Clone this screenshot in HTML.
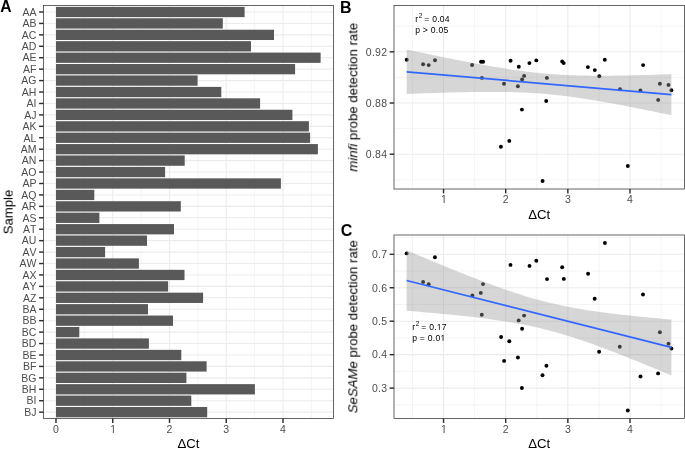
<!DOCTYPE html>
<html><head><meta charset="utf-8"><style>
html,body{margin:0;padding:0;background:#fff;}
svg{display:block;will-change:transform;}
text{filter:blur(0.2px);font-family:"Liberation Sans", sans-serif;font-variant-ligatures:none;font-kerning:none;}
.ax{font-size:10.5px;fill:#4D4D4D;}
.tt{font-size:13.2px;fill:#000;}
.tag{font-size:16px;font-weight:bold;fill:#000;}
.an{font-size:8.6px;fill:#000;letter-spacing:0.25px;}
</style></head><body>
<svg width="685" height="449" viewBox="0 0 685 449">
<defs><clipPath id="c1_0" clipPathUnits="userSpaceOnUse"><rect x="108.23" y="420.4" width="10.5" height="11.6"/><rect x="112.79" y="431.4" width="1.08" height="2"/></clipPath><clipPath id="c1_1" clipPathUnits="userSpaceOnUse"><rect x="439.03" y="190.4" width="10.5" height="11.6"/><rect x="443.59" y="201.4" width="1.08" height="2"/></clipPath><clipPath id="c1_2" clipPathUnits="userSpaceOnUse"><rect x="439.03" y="420.4" width="10.5" height="11.6"/><rect x="443.59" y="431.4" width="1.08" height="2"/></clipPath><clipPath id="fc_ann3" clipPathUnits="userSpaceOnUse"><rect x="380" y="316" width="90" height="13"/><rect x="380" y="329" width="57.26" height="5"/><rect x="439" y="329" width="0.76" height="5"/><rect x="441.46" y="329" width="28.54" height="5"/></clipPath><clipPath id="fc_ann4" clipPathUnits="userSpaceOnUse"><rect x="380" y="327" width="90" height="13"/><rect x="380" y="340" width="60.89" height="5"/><rect x="442.63" y="340" width="0.76" height="5"/><rect x="445.08" y="340" width="24.92" height="5"/></clipPath></defs>
<rect width="685" height="449" fill="#fff"/>
<rect x="43.5" y="5.5" width="290.0" height="413.0" fill="#fff"/>
<line x1="84.38" y1="5.5" x2="84.38" y2="418.5" stroke="#EBEBEB" stroke-width="0.55"/>
<line x1="141.12" y1="5.5" x2="141.12" y2="418.5" stroke="#EBEBEB" stroke-width="0.55"/>
<line x1="197.88" y1="5.5" x2="197.88" y2="418.5" stroke="#EBEBEB" stroke-width="0.55"/>
<line x1="254.62" y1="5.5" x2="254.62" y2="418.5" stroke="#EBEBEB" stroke-width="0.55"/>
<line x1="311.38" y1="5.5" x2="311.38" y2="418.5" stroke="#EBEBEB" stroke-width="0.55"/>
<line x1="56" y1="5.5" x2="56" y2="418.5" stroke="#EBEBEB" stroke-width="1.1"/>
<line x1="112.75" y1="5.5" x2="112.75" y2="418.5" stroke="#EBEBEB" stroke-width="1.1"/>
<line x1="169.5" y1="5.5" x2="169.5" y2="418.5" stroke="#EBEBEB" stroke-width="1.1"/>
<line x1="226.25" y1="5.5" x2="226.25" y2="418.5" stroke="#EBEBEB" stroke-width="1.1"/>
<line x1="283" y1="5.5" x2="283" y2="418.5" stroke="#EBEBEB" stroke-width="1.1"/>
<line x1="43.5" y1="12" x2="333.5" y2="12" stroke="#EBEBEB" stroke-width="1.1"/>
<line x1="43.5" y1="23.43" x2="333.5" y2="23.43" stroke="#EBEBEB" stroke-width="1.1"/>
<line x1="43.5" y1="34.87" x2="333.5" y2="34.87" stroke="#EBEBEB" stroke-width="1.1"/>
<line x1="43.5" y1="46.3" x2="333.5" y2="46.3" stroke="#EBEBEB" stroke-width="1.1"/>
<line x1="43.5" y1="57.73" x2="333.5" y2="57.73" stroke="#EBEBEB" stroke-width="1.1"/>
<line x1="43.5" y1="69.16" x2="333.5" y2="69.16" stroke="#EBEBEB" stroke-width="1.1"/>
<line x1="43.5" y1="80.6" x2="333.5" y2="80.6" stroke="#EBEBEB" stroke-width="1.1"/>
<line x1="43.5" y1="92.03" x2="333.5" y2="92.03" stroke="#EBEBEB" stroke-width="1.1"/>
<line x1="43.5" y1="103.46" x2="333.5" y2="103.46" stroke="#EBEBEB" stroke-width="1.1"/>
<line x1="43.5" y1="114.9" x2="333.5" y2="114.9" stroke="#EBEBEB" stroke-width="1.1"/>
<line x1="43.5" y1="126.33" x2="333.5" y2="126.33" stroke="#EBEBEB" stroke-width="1.1"/>
<line x1="43.5" y1="137.76" x2="333.5" y2="137.76" stroke="#EBEBEB" stroke-width="1.1"/>
<line x1="43.5" y1="149.2" x2="333.5" y2="149.2" stroke="#EBEBEB" stroke-width="1.1"/>
<line x1="43.5" y1="160.63" x2="333.5" y2="160.63" stroke="#EBEBEB" stroke-width="1.1"/>
<line x1="43.5" y1="172.06" x2="333.5" y2="172.06" stroke="#EBEBEB" stroke-width="1.1"/>
<line x1="43.5" y1="183.5" x2="333.5" y2="183.5" stroke="#EBEBEB" stroke-width="1.1"/>
<line x1="43.5" y1="194.93" x2="333.5" y2="194.93" stroke="#EBEBEB" stroke-width="1.1"/>
<line x1="43.5" y1="206.36" x2="333.5" y2="206.36" stroke="#EBEBEB" stroke-width="1.1"/>
<line x1="43.5" y1="217.79" x2="333.5" y2="217.79" stroke="#EBEBEB" stroke-width="1.1"/>
<line x1="43.5" y1="229.23" x2="333.5" y2="229.23" stroke="#EBEBEB" stroke-width="1.1"/>
<line x1="43.5" y1="240.66" x2="333.5" y2="240.66" stroke="#EBEBEB" stroke-width="1.1"/>
<line x1="43.5" y1="252.09" x2="333.5" y2="252.09" stroke="#EBEBEB" stroke-width="1.1"/>
<line x1="43.5" y1="263.53" x2="333.5" y2="263.53" stroke="#EBEBEB" stroke-width="1.1"/>
<line x1="43.5" y1="274.96" x2="333.5" y2="274.96" stroke="#EBEBEB" stroke-width="1.1"/>
<line x1="43.5" y1="286.39" x2="333.5" y2="286.39" stroke="#EBEBEB" stroke-width="1.1"/>
<line x1="43.5" y1="297.82" x2="333.5" y2="297.82" stroke="#EBEBEB" stroke-width="1.1"/>
<line x1="43.5" y1="309.26" x2="333.5" y2="309.26" stroke="#EBEBEB" stroke-width="1.1"/>
<line x1="43.5" y1="320.69" x2="333.5" y2="320.69" stroke="#EBEBEB" stroke-width="1.1"/>
<line x1="43.5" y1="332.12" x2="333.5" y2="332.12" stroke="#EBEBEB" stroke-width="1.1"/>
<line x1="43.5" y1="343.56" x2="333.5" y2="343.56" stroke="#EBEBEB" stroke-width="1.1"/>
<line x1="43.5" y1="354.99" x2="333.5" y2="354.99" stroke="#EBEBEB" stroke-width="1.1"/>
<line x1="43.5" y1="366.42" x2="333.5" y2="366.42" stroke="#EBEBEB" stroke-width="1.1"/>
<line x1="43.5" y1="377.86" x2="333.5" y2="377.86" stroke="#EBEBEB" stroke-width="1.1"/>
<line x1="43.5" y1="389.29" x2="333.5" y2="389.29" stroke="#EBEBEB" stroke-width="1.1"/>
<line x1="43.5" y1="400.72" x2="333.5" y2="400.72" stroke="#EBEBEB" stroke-width="1.1"/>
<line x1="43.5" y1="412.15" x2="333.5" y2="412.15" stroke="#EBEBEB" stroke-width="1.1"/>
<rect x="56.0" y="6.86" width="188.6" height="10.29" fill="#595959"/>
<rect x="56.0" y="18.29" width="166.8" height="10.29" fill="#595959"/>
<rect x="56.0" y="29.72" width="218" height="10.29" fill="#595959"/>
<rect x="56.0" y="41.15" width="195" height="10.29" fill="#595959"/>
<rect x="56.0" y="52.59" width="264.6" height="10.29" fill="#595959"/>
<rect x="56.0" y="64.02" width="239.1" height="10.29" fill="#595959"/>
<rect x="56.0" y="75.45" width="141.6" height="10.29" fill="#595959"/>
<rect x="56.0" y="86.89" width="165.3" height="10.29" fill="#595959"/>
<rect x="56.0" y="98.32" width="204.1" height="10.29" fill="#595959"/>
<rect x="56.0" y="109.75" width="236.4" height="10.29" fill="#595959"/>
<rect x="56.0" y="121.19" width="252.9" height="10.29" fill="#595959"/>
<rect x="56.0" y="132.62" width="254.1" height="10.29" fill="#595959"/>
<rect x="56.0" y="144.05" width="261.9" height="10.29" fill="#595959"/>
<rect x="56.0" y="155.48" width="128.7" height="10.29" fill="#595959"/>
<rect x="56.0" y="166.92" width="109.1" height="10.29" fill="#595959"/>
<rect x="56.0" y="178.35" width="224.9" height="10.29" fill="#595959"/>
<rect x="56.0" y="189.78" width="38.3" height="10.29" fill="#595959"/>
<rect x="56.0" y="201.22" width="124.8" height="10.29" fill="#595959"/>
<rect x="56.0" y="212.65" width="43.4" height="10.29" fill="#595959"/>
<rect x="56.0" y="224.08" width="118" height="10.29" fill="#595959"/>
<rect x="56.0" y="235.51" width="91" height="10.29" fill="#595959"/>
<rect x="56.0" y="246.95" width="49.1" height="10.29" fill="#595959"/>
<rect x="56.0" y="258.38" width="82.9" height="10.29" fill="#595959"/>
<rect x="56.0" y="269.81" width="128.5" height="10.29" fill="#595959"/>
<rect x="56.0" y="281.25" width="112.1" height="10.29" fill="#595959"/>
<rect x="56.0" y="292.68" width="147.1" height="10.29" fill="#595959"/>
<rect x="56.0" y="304.11" width="92" height="10.29" fill="#595959"/>
<rect x="56.0" y="315.55" width="117" height="10.29" fill="#595959"/>
<rect x="56.0" y="326.98" width="23.3" height="10.29" fill="#595959"/>
<rect x="56.0" y="338.41" width="92.9" height="10.29" fill="#595959"/>
<rect x="56.0" y="349.85" width="125.3" height="10.29" fill="#595959"/>
<rect x="56.0" y="361.28" width="150.6" height="10.29" fill="#595959"/>
<rect x="56.0" y="372.71" width="130.4" height="10.29" fill="#595959"/>
<rect x="56.0" y="384.14" width="198.9" height="10.29" fill="#595959"/>
<rect x="56.0" y="395.58" width="135.3" height="10.29" fill="#595959"/>
<rect x="56.0" y="407.01" width="151.2" height="10.29" fill="#595959"/>
<rect x="43.5" y="5.5" width="290.0" height="413.0" fill="none" stroke="#333333" stroke-width="0.75"/>
<line x1="39.1" y1="12" x2="43.5" y2="12" stroke="#2e2e2e" stroke-width="1.45"/>
<line x1="39.1" y1="23.43" x2="43.5" y2="23.43" stroke="#2e2e2e" stroke-width="1.45"/>
<line x1="39.1" y1="34.87" x2="43.5" y2="34.87" stroke="#2e2e2e" stroke-width="1.45"/>
<line x1="39.1" y1="46.3" x2="43.5" y2="46.3" stroke="#2e2e2e" stroke-width="1.45"/>
<line x1="39.1" y1="57.73" x2="43.5" y2="57.73" stroke="#2e2e2e" stroke-width="1.45"/>
<line x1="39.1" y1="69.16" x2="43.5" y2="69.16" stroke="#2e2e2e" stroke-width="1.45"/>
<line x1="39.1" y1="80.6" x2="43.5" y2="80.6" stroke="#2e2e2e" stroke-width="1.45"/>
<line x1="39.1" y1="92.03" x2="43.5" y2="92.03" stroke="#2e2e2e" stroke-width="1.45"/>
<line x1="39.1" y1="103.46" x2="43.5" y2="103.46" stroke="#2e2e2e" stroke-width="1.45"/>
<line x1="39.1" y1="114.9" x2="43.5" y2="114.9" stroke="#2e2e2e" stroke-width="1.45"/>
<line x1="39.1" y1="126.33" x2="43.5" y2="126.33" stroke="#2e2e2e" stroke-width="1.45"/>
<line x1="39.1" y1="137.76" x2="43.5" y2="137.76" stroke="#2e2e2e" stroke-width="1.45"/>
<line x1="39.1" y1="149.2" x2="43.5" y2="149.2" stroke="#2e2e2e" stroke-width="1.45"/>
<line x1="39.1" y1="160.63" x2="43.5" y2="160.63" stroke="#2e2e2e" stroke-width="1.45"/>
<line x1="39.1" y1="172.06" x2="43.5" y2="172.06" stroke="#2e2e2e" stroke-width="1.45"/>
<line x1="39.1" y1="183.5" x2="43.5" y2="183.5" stroke="#2e2e2e" stroke-width="1.45"/>
<line x1="39.1" y1="194.93" x2="43.5" y2="194.93" stroke="#2e2e2e" stroke-width="1.45"/>
<line x1="39.1" y1="206.36" x2="43.5" y2="206.36" stroke="#2e2e2e" stroke-width="1.45"/>
<line x1="39.1" y1="217.79" x2="43.5" y2="217.79" stroke="#2e2e2e" stroke-width="1.45"/>
<line x1="39.1" y1="229.23" x2="43.5" y2="229.23" stroke="#2e2e2e" stroke-width="1.45"/>
<line x1="39.1" y1="240.66" x2="43.5" y2="240.66" stroke="#2e2e2e" stroke-width="1.45"/>
<line x1="39.1" y1="252.09" x2="43.5" y2="252.09" stroke="#2e2e2e" stroke-width="1.45"/>
<line x1="39.1" y1="263.53" x2="43.5" y2="263.53" stroke="#2e2e2e" stroke-width="1.45"/>
<line x1="39.1" y1="274.96" x2="43.5" y2="274.96" stroke="#2e2e2e" stroke-width="1.45"/>
<line x1="39.1" y1="286.39" x2="43.5" y2="286.39" stroke="#2e2e2e" stroke-width="1.45"/>
<line x1="39.1" y1="297.82" x2="43.5" y2="297.82" stroke="#2e2e2e" stroke-width="1.45"/>
<line x1="39.1" y1="309.26" x2="43.5" y2="309.26" stroke="#2e2e2e" stroke-width="1.45"/>
<line x1="39.1" y1="320.69" x2="43.5" y2="320.69" stroke="#2e2e2e" stroke-width="1.45"/>
<line x1="39.1" y1="332.12" x2="43.5" y2="332.12" stroke="#2e2e2e" stroke-width="1.45"/>
<line x1="39.1" y1="343.56" x2="43.5" y2="343.56" stroke="#2e2e2e" stroke-width="1.45"/>
<line x1="39.1" y1="354.99" x2="43.5" y2="354.99" stroke="#2e2e2e" stroke-width="1.45"/>
<line x1="39.1" y1="366.42" x2="43.5" y2="366.42" stroke="#2e2e2e" stroke-width="1.45"/>
<line x1="39.1" y1="377.86" x2="43.5" y2="377.86" stroke="#2e2e2e" stroke-width="1.45"/>
<line x1="39.1" y1="389.29" x2="43.5" y2="389.29" stroke="#2e2e2e" stroke-width="1.45"/>
<line x1="39.1" y1="400.72" x2="43.5" y2="400.72" stroke="#2e2e2e" stroke-width="1.45"/>
<line x1="39.1" y1="412.15" x2="43.5" y2="412.15" stroke="#2e2e2e" stroke-width="1.45"/>
<line x1="56" y1="418.5" x2="56" y2="422.9" stroke="#2e2e2e" stroke-width="1.45"/>
<line x1="112.75" y1="418.5" x2="112.75" y2="422.9" stroke="#2e2e2e" stroke-width="1.45"/>
<line x1="169.5" y1="418.5" x2="169.5" y2="422.9" stroke="#2e2e2e" stroke-width="1.45"/>
<line x1="226.25" y1="418.5" x2="226.25" y2="422.9" stroke="#2e2e2e" stroke-width="1.45"/>
<line x1="283" y1="418.5" x2="283" y2="422.9" stroke="#2e2e2e" stroke-width="1.45"/>
<text x="36.4" y="15.76" text-anchor="end" class="ax">AA</text>
<text x="36.4" y="27.19" text-anchor="end" class="ax">AB</text>
<text x="36.4" y="38.62" text-anchor="end" class="ax">AC</text>
<text x="36.4" y="50.06" text-anchor="end" class="ax">AD</text>
<text x="36.4" y="61.49" text-anchor="end" class="ax">AE</text>
<text x="36.4" y="72.92" text-anchor="end" class="ax">AF</text>
<text x="36.4" y="84.36" text-anchor="end" class="ax">AG</text>
<text x="36.4" y="95.79" text-anchor="end" class="ax">AH</text>
<text x="36.4" y="107.22" text-anchor="end" class="ax">AI</text>
<text x="36.4" y="118.66" text-anchor="end" class="ax">AJ</text>
<text x="36.4" y="130.09" text-anchor="end" class="ax">AK</text>
<text x="36.4" y="141.52" text-anchor="end" class="ax">AL</text>
<text x="36.4" y="152.95" text-anchor="end" class="ax">AM</text>
<text x="36.4" y="164.39" text-anchor="end" class="ax">AN</text>
<text x="36.4" y="175.82" text-anchor="end" class="ax">AO</text>
<text x="36.4" y="187.25" text-anchor="end" class="ax">AP</text>
<text x="36.4" y="198.69" text-anchor="end" class="ax">AQ</text>
<text x="36.4" y="210.12" text-anchor="end" class="ax">AR</text>
<text x="36.4" y="221.55" text-anchor="end" class="ax">AS</text>
<text x="36.4" y="232.99" text-anchor="end" class="ax">AT</text>
<text x="36.4" y="244.42" text-anchor="end" class="ax">AU</text>
<text x="36.4" y="255.85" text-anchor="end" class="ax">AV</text>
<text x="36.4" y="267.29" text-anchor="end" class="ax">AW</text>
<text x="36.4" y="278.72" text-anchor="end" class="ax">AX</text>
<text x="36.4" y="290.15" text-anchor="end" class="ax">AY</text>
<text x="36.4" y="301.58" text-anchor="end" class="ax">AZ</text>
<text x="36.4" y="313.02" text-anchor="end" class="ax">BA</text>
<text x="36.4" y="324.45" text-anchor="end" class="ax">BB</text>
<text x="36.4" y="335.88" text-anchor="end" class="ax">BC</text>
<text x="36.4" y="347.32" text-anchor="end" class="ax">BD</text>
<text x="36.4" y="358.75" text-anchor="end" class="ax">BE</text>
<text x="36.4" y="370.18" text-anchor="end" class="ax">BF</text>
<text x="36.4" y="381.62" text-anchor="end" class="ax">BG</text>
<text x="36.4" y="393.05" text-anchor="end" class="ax">BH</text>
<text x="36.4" y="404.48" text-anchor="end" class="ax">BI</text>
<text x="36.4" y="415.91" text-anchor="end" class="ax">BJ</text>
<text x="56" y="433.0" text-anchor="middle" class="ax">0</text>
<g clip-path="url(#c1_0)"><text x="113.15" y="433.0" text-anchor="middle" class="ax">1</text></g>
<text x="169.5" y="433.0" text-anchor="middle" class="ax">2</text>
<text x="226.25" y="433.0" text-anchor="middle" class="ax">3</text>
<text x="283" y="433.0" text-anchor="middle" class="ax">4</text>
<text x="188.5" y="447.6" text-anchor="middle" class="tt">ΔCt</text>
<text transform="translate(12.6,212.0) rotate(-90)" text-anchor="middle" class="tt">Sample</text>
<rect x="394.0" y="5.5" width="290.5" height="183.5" fill="#fff"/>
<line x1="412.47" y1="5.5" x2="412.47" y2="189.0" stroke="#EBEBEB" stroke-width="0.55"/>
<line x1="474.62" y1="5.5" x2="474.62" y2="189.0" stroke="#EBEBEB" stroke-width="0.55"/>
<line x1="536.77" y1="5.5" x2="536.77" y2="189.0" stroke="#EBEBEB" stroke-width="0.55"/>
<line x1="598.92" y1="5.5" x2="598.92" y2="189.0" stroke="#EBEBEB" stroke-width="0.55"/>
<line x1="661.08" y1="5.5" x2="661.08" y2="189.0" stroke="#EBEBEB" stroke-width="0.55"/>
<line x1="394.0" y1="179.8" x2="684.5" y2="179.8" stroke="#EBEBEB" stroke-width="0.55"/>
<line x1="394.0" y1="128.6" x2="684.5" y2="128.6" stroke="#EBEBEB" stroke-width="0.55"/>
<line x1="394.0" y1="77.4" x2="684.5" y2="77.4" stroke="#EBEBEB" stroke-width="0.55"/>
<line x1="394.0" y1="26.2" x2="684.5" y2="26.2" stroke="#EBEBEB" stroke-width="0.55"/>
<line x1="443.55" y1="5.5" x2="443.55" y2="189.0" stroke="#EBEBEB" stroke-width="1.1"/>
<line x1="505.7" y1="5.5" x2="505.7" y2="189.0" stroke="#EBEBEB" stroke-width="1.1"/>
<line x1="567.85" y1="5.5" x2="567.85" y2="189.0" stroke="#EBEBEB" stroke-width="1.1"/>
<line x1="630" y1="5.5" x2="630" y2="189.0" stroke="#EBEBEB" stroke-width="1.1"/>
<line x1="394.0" y1="154.2" x2="684.5" y2="154.2" stroke="#EBEBEB" stroke-width="1.1"/>
<line x1="394.0" y1="103" x2="684.5" y2="103" stroke="#EBEBEB" stroke-width="1.1"/>
<line x1="394.0" y1="51.8" x2="684.5" y2="51.8" stroke="#EBEBEB" stroke-width="1.1"/>
<circle cx="406.7" cy="59.7" r="1.95" fill="#000"/>
<circle cx="423.1" cy="64.3" r="1.95" fill="#000"/>
<circle cx="428.7" cy="65.1" r="1.95" fill="#000"/>
<circle cx="435.0" cy="60.3" r="1.95" fill="#000"/>
<circle cx="472.1" cy="65.0" r="1.95" fill="#000"/>
<circle cx="481.0" cy="61.8" r="1.95" fill="#000"/>
<circle cx="483.1" cy="61.8" r="1.95" fill="#000"/>
<circle cx="481.9" cy="77.9" r="1.95" fill="#000"/>
<circle cx="500.9" cy="146.7" r="1.95" fill="#000"/>
<circle cx="504.0" cy="83.7" r="1.95" fill="#000"/>
<circle cx="509.3" cy="140.9" r="1.95" fill="#000"/>
<circle cx="510.6" cy="60.7" r="1.95" fill="#000"/>
<circle cx="517.9" cy="86.2" r="1.95" fill="#000"/>
<circle cx="518.8" cy="66.8" r="1.95" fill="#000"/>
<circle cx="522.1" cy="79.5" r="1.95" fill="#000"/>
<circle cx="521.9" cy="109.6" r="1.95" fill="#000"/>
<circle cx="524.1" cy="75.9" r="1.95" fill="#000"/>
<circle cx="529.4" cy="63.1" r="1.95" fill="#000"/>
<circle cx="536.3" cy="60.4" r="1.95" fill="#000"/>
<circle cx="542.6" cy="181.0" r="1.95" fill="#000"/>
<circle cx="546.9" cy="77.9" r="1.95" fill="#000"/>
<circle cx="546.2" cy="101.0" r="1.95" fill="#000"/>
<circle cx="562.2" cy="61.5" r="1.95" fill="#000"/>
<circle cx="563.7" cy="63.1" r="1.95" fill="#000"/>
<circle cx="587.9" cy="67.1" r="1.95" fill="#000"/>
<circle cx="594.8" cy="70.1" r="1.95" fill="#000"/>
<circle cx="599.3" cy="76.2" r="1.95" fill="#000"/>
<circle cx="604.8" cy="59.8" r="1.95" fill="#000"/>
<circle cx="620.0" cy="89.3" r="1.95" fill="#000"/>
<circle cx="627.8" cy="166.0" r="1.95" fill="#000"/>
<circle cx="640.4" cy="90.5" r="1.95" fill="#000"/>
<circle cx="643.1" cy="65.1" r="1.95" fill="#000"/>
<circle cx="658.2" cy="99.9" r="1.95" fill="#000"/>
<circle cx="659.9" cy="83.8" r="1.95" fill="#000"/>
<circle cx="668.5" cy="84.9" r="1.95" fill="#000"/>
<circle cx="671.4" cy="90.2" r="1.95" fill="#000"/>
<path d="M406.7,49.56 L410.05,50.27 L413.4,50.98 L416.75,51.69 L420.1,52.39 L423.45,53.1 L426.8,53.79 L430.15,54.49 L433.51,55.18 L436.86,55.87 L440.21,56.55 L443.56,57.24 L446.91,57.91 L450.26,58.58 L453.61,59.25 L456.96,59.91 L460.31,60.57 L463.66,61.22 L467.01,61.86 L470.36,62.5 L473.71,63.13 L477.06,63.75 L480.41,64.37 L483.76,64.97 L487.12,65.57 L490.47,66.15 L493.82,66.73 L497.17,67.29 L500.52,67.84 L503.87,68.37 L507.22,68.9 L510.57,69.4 L513.92,69.89 L517.27,70.37 L520.62,70.82 L523.97,71.26 L527.32,71.68 L530.67,72.07 L534.02,72.45 L537.37,72.81 L540.73,73.14 L544.08,73.45 L547.43,73.74 L550.78,74.01 L554.13,74.25 L557.48,74.48 L560.83,74.68 L564.18,74.86 L567.53,75.02 L570.88,75.16 L574.23,75.29 L577.58,75.39 L580.93,75.48 L584.28,75.55 L587.63,75.61 L590.98,75.65 L594.34,75.68 L597.69,75.7 L601.04,75.7 L604.39,75.7 L607.74,75.68 L611.09,75.66 L614.44,75.62 L617.79,75.58 L621.14,75.53 L624.49,75.47 L627.84,75.4 L631.19,75.33 L634.54,75.26 L637.89,75.17 L641.24,75.08 L644.59,74.99 L647.95,74.89 L651.3,74.79 L654.65,74.69 L658,74.58 L661.35,74.47 L664.7,74.35 L668.05,74.23 L671.4,74.11 L671.4,115.23 L668.05,114.53 L664.7,113.83 L661.35,113.14 L658,112.45 L654.65,111.76 L651.3,111.07 L647.95,110.39 L644.59,109.72 L641.24,109.04 L637.89,108.38 L634.54,107.71 L631.19,107.06 L627.84,106.41 L624.49,105.76 L621.14,105.12 L617.79,104.49 L614.44,103.87 L611.09,103.26 L607.74,102.65 L604.39,102.06 L601.04,101.47 L597.69,100.9 L594.34,100.33 L590.98,99.78 L587.63,99.25 L584.28,98.72 L580.93,98.22 L577.58,97.73 L574.23,97.25 L570.88,96.8 L567.53,96.36 L564.18,95.94 L560.83,95.54 L557.48,95.16 L554.13,94.81 L550.78,94.47 L547.43,94.16 L544.08,93.87 L540.73,93.6 L537.37,93.36 L534.02,93.13 L530.67,92.93 L527.32,92.75 L523.97,92.59 L520.62,92.44 L517.27,92.32 L513.92,92.21 L510.57,92.12 L507.22,92.05 L503.87,91.99 L500.52,91.95 L497.17,91.92 L493.82,91.9 L490.47,91.9 L487.12,91.9 L483.76,91.92 L480.41,91.94 L477.06,91.98 L473.71,92.02 L470.36,92.07 L467.01,92.13 L463.66,92.19 L460.31,92.26 L456.96,92.34 L453.61,92.42 L450.26,92.51 L446.91,92.6 L443.56,92.7 L440.21,92.8 L436.86,92.91 L433.51,93.02 L430.15,93.13 L426.8,93.24 L423.45,93.36 L420.1,93.49 L416.75,93.61 L413.4,93.74 L410.05,93.87 L406.7,94Z" fill="#999999" fill-opacity="0.4"/>
<line x1="406.7" y1="71.78" x2="671.4" y2="94.67" stroke="#3366FF" stroke-width="1.75"/>
<rect x="394.0" y="5.5" width="290.5" height="183.5" fill="none" stroke="#333333" stroke-width="0.75"/>
<line x1="389.6" y1="154.2" x2="394.0" y2="154.2" stroke="#2e2e2e" stroke-width="1.45"/>
<text x="387.4" y="157.96" text-anchor="end" class="ax" style="letter-spacing:0.3px">0.84</text>
<line x1="389.6" y1="103" x2="394.0" y2="103" stroke="#2e2e2e" stroke-width="1.45"/>
<text x="387.4" y="106.76" text-anchor="end" class="ax" style="letter-spacing:0.3px">0.88</text>
<line x1="389.6" y1="51.8" x2="394.0" y2="51.8" stroke="#2e2e2e" stroke-width="1.45"/>
<text x="387.4" y="55.56" text-anchor="end" class="ax" style="letter-spacing:0.3px">0.92</text>
<line x1="443.55" y1="189.0" x2="443.55" y2="193.4" stroke="#2e2e2e" stroke-width="1.45"/>
<g clip-path="url(#c1_1)"><text x="443.95" y="203.4" text-anchor="middle" class="ax">1</text></g>
<line x1="505.7" y1="189.0" x2="505.7" y2="193.4" stroke="#2e2e2e" stroke-width="1.45"/>
<text x="505.7" y="203.4" text-anchor="middle" class="ax">2</text>
<line x1="567.85" y1="189.0" x2="567.85" y2="193.4" stroke="#2e2e2e" stroke-width="1.45"/>
<text x="567.85" y="203.4" text-anchor="middle" class="ax">3</text>
<line x1="630" y1="189.0" x2="630" y2="193.4" stroke="#2e2e2e" stroke-width="1.45"/>
<text x="630" y="203.4" text-anchor="middle" class="ax">4</text>
<text x="539.25" y="218.7" text-anchor="middle" class="tt">ΔCt</text>
<text transform="translate(357.3,97.25) rotate(-90)" text-anchor="middle" class="tt"><tspan font-style="italic">minfi</tspan> probe detection rate</text>
<text x="415.2" y="21.8" class="an ann" id="ann1">r<tspan dx="0.4" dy="-4.0" font-size="6.4">2</tspan><tspan dx="-0.9" dy="4.0"> = 0.04</tspan></text>
<text x="415.2" y="32.5" class="an ann" id="ann2">p &gt; 0.05</text>
<rect x="394.0" y="235.0" width="290.5" height="183.5" fill="#fff"/>
<line x1="412.47" y1="235.0" x2="412.47" y2="418.5" stroke="#EBEBEB" stroke-width="0.55"/>
<line x1="474.62" y1="235.0" x2="474.62" y2="418.5" stroke="#EBEBEB" stroke-width="0.55"/>
<line x1="536.77" y1="235.0" x2="536.77" y2="418.5" stroke="#EBEBEB" stroke-width="0.55"/>
<line x1="598.92" y1="235.0" x2="598.92" y2="418.5" stroke="#EBEBEB" stroke-width="0.55"/>
<line x1="661.08" y1="235.0" x2="661.08" y2="418.5" stroke="#EBEBEB" stroke-width="0.55"/>
<line x1="394.0" y1="404.82" x2="684.5" y2="404.82" stroke="#EBEBEB" stroke-width="0.55"/>
<line x1="394.0" y1="371.38" x2="684.5" y2="371.38" stroke="#EBEBEB" stroke-width="0.55"/>
<line x1="394.0" y1="337.93" x2="684.5" y2="337.93" stroke="#EBEBEB" stroke-width="0.55"/>
<line x1="394.0" y1="304.47" x2="684.5" y2="304.47" stroke="#EBEBEB" stroke-width="0.55"/>
<line x1="394.0" y1="271.02" x2="684.5" y2="271.02" stroke="#EBEBEB" stroke-width="0.55"/>
<line x1="394.0" y1="237.57" x2="684.5" y2="237.57" stroke="#EBEBEB" stroke-width="0.55"/>
<line x1="443.55" y1="235.0" x2="443.55" y2="418.5" stroke="#EBEBEB" stroke-width="1.1"/>
<line x1="505.7" y1="235.0" x2="505.7" y2="418.5" stroke="#EBEBEB" stroke-width="1.1"/>
<line x1="567.85" y1="235.0" x2="567.85" y2="418.5" stroke="#EBEBEB" stroke-width="1.1"/>
<line x1="630" y1="235.0" x2="630" y2="418.5" stroke="#EBEBEB" stroke-width="1.1"/>
<line x1="394.0" y1="388.1" x2="684.5" y2="388.1" stroke="#EBEBEB" stroke-width="1.1"/>
<line x1="394.0" y1="354.65" x2="684.5" y2="354.65" stroke="#EBEBEB" stroke-width="1.1"/>
<line x1="394.0" y1="321.2" x2="684.5" y2="321.2" stroke="#EBEBEB" stroke-width="1.1"/>
<line x1="394.0" y1="287.75" x2="684.5" y2="287.75" stroke="#EBEBEB" stroke-width="1.1"/>
<line x1="394.0" y1="254.3" x2="684.5" y2="254.3" stroke="#EBEBEB" stroke-width="1.1"/>
<circle cx="406.6" cy="253.4" r="1.95" fill="#000"/>
<circle cx="423.1" cy="281.9" r="1.95" fill="#000"/>
<circle cx="428.7" cy="284.3" r="1.95" fill="#000"/>
<circle cx="434.9" cy="257.2" r="1.95" fill="#000"/>
<circle cx="472.4" cy="295.5" r="1.95" fill="#000"/>
<circle cx="480.8" cy="292.9" r="1.95" fill="#000"/>
<circle cx="483.0" cy="284.1" r="1.95" fill="#000"/>
<circle cx="481.8" cy="314.7" r="1.95" fill="#000"/>
<circle cx="501.1" cy="337.0" r="1.95" fill="#000"/>
<circle cx="504.1" cy="360.9" r="1.95" fill="#000"/>
<circle cx="510.5" cy="264.9" r="1.95" fill="#000"/>
<circle cx="509.3" cy="341.2" r="1.95" fill="#000"/>
<circle cx="518.7" cy="320.4" r="1.95" fill="#000"/>
<circle cx="517.9" cy="357.5" r="1.95" fill="#000"/>
<circle cx="522.1" cy="328.8" r="1.95" fill="#000"/>
<circle cx="521.9" cy="388.0" r="1.95" fill="#000"/>
<circle cx="524.1" cy="315.6" r="1.95" fill="#000"/>
<circle cx="529.5" cy="265.9" r="1.95" fill="#000"/>
<circle cx="536.3" cy="260.7" r="1.95" fill="#000"/>
<circle cx="542.5" cy="375.3" r="1.95" fill="#000"/>
<circle cx="547.0" cy="279.1" r="1.95" fill="#000"/>
<circle cx="546.4" cy="365.7" r="1.95" fill="#000"/>
<circle cx="562.2" cy="267.3" r="1.95" fill="#000"/>
<circle cx="563.8" cy="278.9" r="1.95" fill="#000"/>
<circle cx="588.1" cy="273.7" r="1.95" fill="#000"/>
<circle cx="594.7" cy="298.7" r="1.95" fill="#000"/>
<circle cx="599.1" cy="351.8" r="1.95" fill="#000"/>
<circle cx="604.9" cy="243.0" r="1.95" fill="#000"/>
<circle cx="619.8" cy="346.7" r="1.95" fill="#000"/>
<circle cx="627.8" cy="410.5" r="1.95" fill="#000"/>
<circle cx="640.5" cy="376.5" r="1.95" fill="#000"/>
<circle cx="643.0" cy="294.5" r="1.95" fill="#000"/>
<circle cx="658.1" cy="373.4" r="1.95" fill="#000"/>
<circle cx="659.9" cy="332.2" r="1.95" fill="#000"/>
<circle cx="668.5" cy="343.7" r="1.95" fill="#000"/>
<circle cx="671.4" cy="348.5" r="1.95" fill="#000"/>
<path d="M406.6,250.26 L409.95,251.69 L413.3,253.1 L416.66,254.52 L420.01,255.93 L423.36,257.34 L426.71,258.74 L430.06,260.14 L433.42,261.54 L436.77,262.93 L440.12,264.31 L443.47,265.69 L446.82,267.07 L450.17,268.43 L453.53,269.8 L456.88,271.15 L460.23,272.5 L463.58,273.84 L466.93,275.17 L470.29,276.49 L473.64,277.8 L476.99,279.1 L480.34,280.39 L483.69,281.67 L487.05,282.93 L490.4,284.18 L493.75,285.41 L497.1,286.63 L500.45,287.83 L503.81,289.02 L507.16,290.18 L510.51,291.32 L513.86,292.45 L517.21,293.54 L520.56,294.62 L523.92,295.67 L527.27,296.69 L530.62,297.68 L533.97,298.65 L537.32,299.59 L540.68,300.49 L544.03,301.37 L547.38,302.22 L550.73,303.04 L554.08,303.82 L557.44,304.58 L560.79,305.31 L564.14,306.01 L567.49,306.68 L570.84,307.33 L574.19,307.95 L577.55,308.55 L580.9,309.12 L584.25,309.68 L587.6,310.21 L590.95,310.72 L594.31,311.21 L597.66,311.69 L601.01,312.15 L604.36,312.6 L607.71,313.03 L611.07,313.45 L614.42,313.85 L617.77,314.25 L621.12,314.63 L624.47,315 L627.83,315.37 L631.18,315.73 L634.53,316.07 L637.88,316.42 L641.23,316.75 L644.58,317.08 L647.94,317.4 L651.29,317.71 L654.64,318.02 L657.99,318.33 L661.34,318.63 L664.7,318.92 L668.05,319.22 L671.4,319.5 L671.4,375.45 L668.05,374.04 L664.7,372.63 L661.34,371.23 L657.99,369.84 L654.64,368.45 L651.29,367.06 L647.94,365.68 L644.58,364.31 L641.23,362.94 L637.88,361.58 L634.53,360.22 L631.18,358.88 L627.83,357.54 L624.47,356.21 L621.12,354.89 L617.77,353.57 L614.42,352.27 L611.07,350.98 L607.71,349.71 L604.36,348.44 L601.01,347.19 L597.66,345.96 L594.31,344.74 L590.95,343.54 L587.6,342.35 L584.25,341.19 L580.9,340.05 L577.55,338.93 L574.19,337.83 L570.84,336.75 L567.49,335.7 L564.14,334.68 L560.79,333.69 L557.44,332.72 L554.08,331.78 L550.73,330.88 L547.38,330 L544.03,329.15 L540.68,328.33 L537.32,327.54 L533.97,326.79 L530.62,326.06 L527.27,325.35 L523.92,324.68 L520.56,324.03 L517.21,323.41 L513.86,322.81 L510.51,322.24 L507.16,321.69 L503.81,321.16 L500.45,320.64 L497.1,320.15 L493.75,319.67 L490.4,319.21 L487.05,318.77 L483.69,318.33 L480.34,317.92 L476.99,317.51 L473.64,317.11 L470.29,316.73 L466.93,316.36 L463.58,315.99 L460.23,315.63 L456.88,315.29 L453.53,314.94 L450.17,314.61 L446.82,314.28 L443.47,313.96 L440.12,313.65 L436.77,313.34 L433.42,313.03 L430.06,312.73 L426.71,312.44 L423.36,312.14 L420.01,311.86 L416.66,311.57 L413.3,311.29 L409.95,311.01 L406.6,310.74Z" fill="#999999" fill-opacity="0.4"/>
<line x1="406.6" y1="280.5" x2="671.4" y2="347.47" stroke="#3366FF" stroke-width="1.75"/>
<rect x="394.0" y="235.0" width="290.5" height="183.5" fill="none" stroke="#333333" stroke-width="0.75"/>
<line x1="389.6" y1="388.1" x2="394.0" y2="388.1" stroke="#2e2e2e" stroke-width="1.45"/>
<text x="387.4" y="391.86" text-anchor="end" class="ax" style="letter-spacing:0.3px">0.3</text>
<line x1="389.6" y1="354.65" x2="394.0" y2="354.65" stroke="#2e2e2e" stroke-width="1.45"/>
<text x="387.4" y="358.41" text-anchor="end" class="ax" style="letter-spacing:0.3px">0.4</text>
<line x1="389.6" y1="321.2" x2="394.0" y2="321.2" stroke="#2e2e2e" stroke-width="1.45"/>
<text x="387.4" y="324.96" text-anchor="end" class="ax" style="letter-spacing:0.3px">0.5</text>
<line x1="389.6" y1="287.75" x2="394.0" y2="287.75" stroke="#2e2e2e" stroke-width="1.45"/>
<text x="387.4" y="291.51" text-anchor="end" class="ax" style="letter-spacing:0.3px">0.6</text>
<line x1="389.6" y1="254.3" x2="394.0" y2="254.3" stroke="#2e2e2e" stroke-width="1.45"/>
<text x="387.4" y="258.06" text-anchor="end" class="ax" style="letter-spacing:0.3px">0.7</text>
<line x1="443.55" y1="418.5" x2="443.55" y2="422.9" stroke="#2e2e2e" stroke-width="1.45"/>
<g clip-path="url(#c1_2)"><text x="443.95" y="433.0" text-anchor="middle" class="ax">1</text></g>
<line x1="505.7" y1="418.5" x2="505.7" y2="422.9" stroke="#2e2e2e" stroke-width="1.45"/>
<text x="505.7" y="433.0" text-anchor="middle" class="ax">2</text>
<line x1="567.85" y1="418.5" x2="567.85" y2="422.9" stroke="#2e2e2e" stroke-width="1.45"/>
<text x="567.85" y="433.0" text-anchor="middle" class="ax">3</text>
<line x1="630" y1="418.5" x2="630" y2="422.9" stroke="#2e2e2e" stroke-width="1.45"/>
<text x="630" y="433.0" text-anchor="middle" class="ax">4</text>
<text x="539.25" y="447.6" text-anchor="middle" class="tt">ΔCt</text>
<text transform="translate(357.3,326.75) rotate(-90)" text-anchor="middle" class="tt"><tspan font-style="italic">SeSAMe</tspan> probe detection rate</text>
<g clip-path="url(#fc_ann3)"><text x="412.2" y="329.7" class="an ann" id="ann3">r<tspan dx="0.4" dy="-4.0" font-size="6.4">2</tspan><tspan dx="-0.9" dy="4.0"> = 0.17</tspan></text></g>
<g clip-path="url(#fc_ann4)"><text x="412.2" y="340.9" class="an ann" id="ann4">p = 0.01</text></g>
<text x="0.3" y="11.9" class="tag" style="font-size:15.7px">A</text>
<text x="340" y="13.2" class="tag">B</text>
<text x="340.7" y="235.9" class="tag">C</text>
</svg>
</body></html>
